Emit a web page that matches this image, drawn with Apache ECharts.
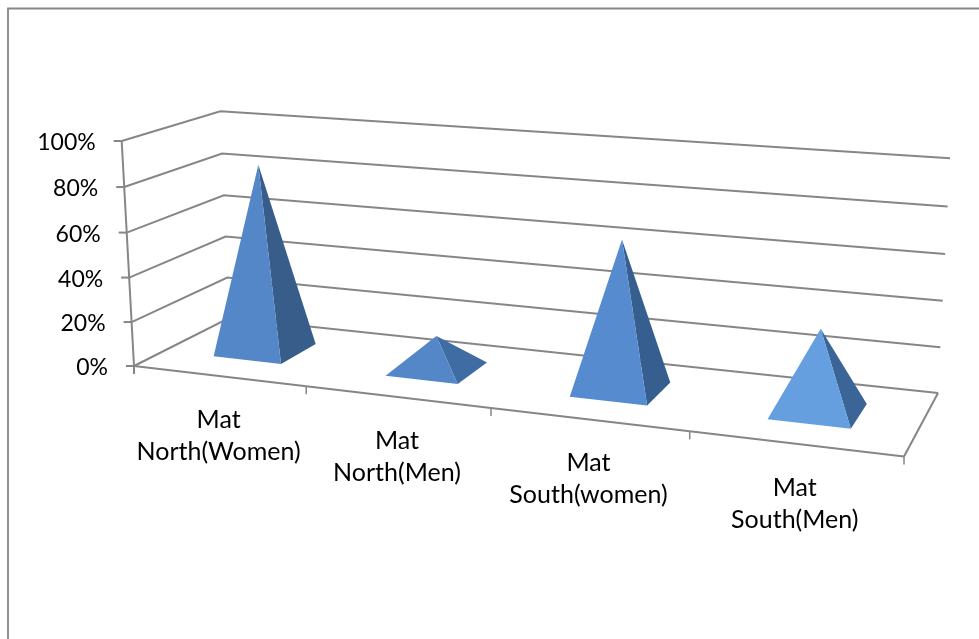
<!DOCTYPE html>
<html>
<head>
<meta charset="utf-8">
<style>html,body{margin:0;padding:0;background:#fff}#chart{width:979px;height:639px}</style>
<script src="https://cdn.jsdelivr.net/npm/echarts@6/dist/echarts.min.js"></script>
</head>
<body>
<div id="chart"></div>
<script>
const categories = ['Mat\nNorth(Women)', 'Mat\nNorth(Men)', 'Mat\nSouth(women)', 'Mat\nSouth(Men)'];
const shares = [85, 15, 65, 35];
const valueTicks = [0, 20, 40, 60, 80, 100];
const tickLabels = ['0%', '20%', '40%', '60%', '80%', '100%'];

const frontColors = ['#5487C8', '#5487C8', '#568BCF', '#659FE0'];
const sideColors = ['#385D8A', '#3F6CA3', '#365F8F', '#3A6596'];

const GRID_COLOR = '#868686';
const VALUE_FONT = '23px Lato, sans-serif';
const CATEGORY_FONT = '25px Lato, sans-serif';

// Homogeneous corners of the 3D box: floor origin, floor right end, wall top, floor back end.
const BOX = {
  origin: [134, 366, 1],
  right: [904, 456.5, 0.8644],
  top: [121.7, 141, 0.9713],
  back: [229, 318, 1.0925]
};
const lift = (c) => [c[0] * c[2], c[1] * c[2], c[2]];
const H0 = lift(BOX.origin), HS = lift(BOX.right), HT = lift(BOX.top), HD = lift(BOX.back);

// s: along the categories, t: up the value axis, d: into the depth (all 0..1).
function project(s, t, d) {
  const h = [0, 1, 2].map((k) => H0[k] + s * (HS[k] - H0[k]) + t * (HT[k] - H0[k]) + d * (HD[k] - H0[k]));
  return [h[0] / h[2], h[1] / h[2]];
}

// Converts a pixel from the hidden cartesian grid into unit box coordinates.
function toUnit(params, px) {
  const g = params.coordSys;
  return [(px[0] - g.x) / g.width, (g.y + g.height - px[1]) / g.height];
}

function stroke(points, width) {
  return {
    type: 'polyline', silent: true,
    shape: { points },
    style: { stroke: GRID_COLOR, lineWidth: width || 2, fill: null }
  };
}

function renderWalls(params, api) {
  const t = toUnit(params, api.coord([0, api.value(0)]))[1];
  const front = project(0, t, 0), backL = project(0, t, 1), backR = project(1, t, 1);
  return {
    type: 'group', children: [
      stroke([front, backL, backR]),
      stroke([[front[0] - 8, front[1]], front]),
      {
        type: 'text', silent: true,
        style: {
          text: tickLabels[params.dataIndex], x: front[0] - 26, y: front[1] + 2,
          align: 'right', verticalAlign: 'middle', font: VALUE_FONT, fill: '#000'
        }
      }
    ]
  };
}

function renderFloor(params, api) {
  const i = params.dataIndex;
  const band = 1 / categories.length;
  const s = toUnit(params, api.coord([i, 0]))[0];
  const end = project(s + band / 2, 0, 0);
  const mid = project(s, 0, 0);
  const children = [
    stroke([project(s - band / 2, 0, 0), end]),
    stroke([end, [end[0], end[1] + 8]], 1.5),
    {
      type: 'text', silent: true,
      style: {
        text: categories[i], x: mid[0], y: mid[1] + 60,
        align: 'center', verticalAlign: 'middle', font: CATEGORY_FONT, lineHeight: 32, fill: '#000'
      }
    }
  ];
  if (i === 0) {
    const start = project(0, 0, 0);
    children.push(stroke([project(0, 1, 0), start, [start[0], start[1] + 8]]));
  }
  if (i === categories.length - 1) {
    children.push(stroke([end, project(1, 0, 1)]));
  }
  return { type: 'group', children };
}

function renderPyramid(params, api) {
  const i = params.dataIndex;
  const halfWidth = 0.4 * (api.size([1, 0])[0] / params.coordSys.width) / 2;
  const depthNear = 0.3, depthFar = 0.7;
  const [s, t] = toUnit(params, api.coord([api.value(0), api.value(1)]));
  const apex = project(s, t, (depthNear + depthFar) / 2);
  const frontL = project(s - halfWidth, 0, depthNear);
  const frontR = project(s + halfWidth, 0, depthNear);
  const backR = project(s + halfWidth, 0, depthFar);
  return {
    type: 'group', children: [
      { type: 'polygon', shape: { points: [apex, frontR, backR] }, style: { fill: sideColors[i] } },
      { type: 'polygon', shape: { points: [apex, frontL, frontR] }, style: { fill: frontColors[i] } }
    ]
  };
}

const chart = echarts.init(document.getElementById('chart'), null, { renderer: 'canvas' });
chart.setOption({
  animation: false,
  backgroundColor: '#fff',
  grid: { left: 100, top: 100, width: 400, height: 400 },
  xAxis: { type: 'category', data: categories, show: false },
  yAxis: { type: 'value', min: 0, max: 100, interval: 20, show: false },
  graphic: [
    { type: 'polyline', silent: true, shape: { points: [[8, 639], [8, 8.5], [979, 8.5]] },
      style: { stroke: GRID_COLOR, lineWidth: 1.8, fill: null } }
  ],
  series: [
    { type: 'custom', name: 'walls', z: 1, data: valueTicks.map((v) => [v]), encode: { y: 0 }, renderItem: renderWalls },
    { type: 'custom', name: 'floor', z: 2, data: categories.map((c, i) => [i]), encode: { x: 0 }, renderItem: renderFloor },
    { type: 'custom', name: 'share', z: 3, data: shares.map((v, i) => [i, v]), encode: { x: 0, y: 1 }, renderItem: renderPyramid }
  ]
});
</script>
</body>
</html>
